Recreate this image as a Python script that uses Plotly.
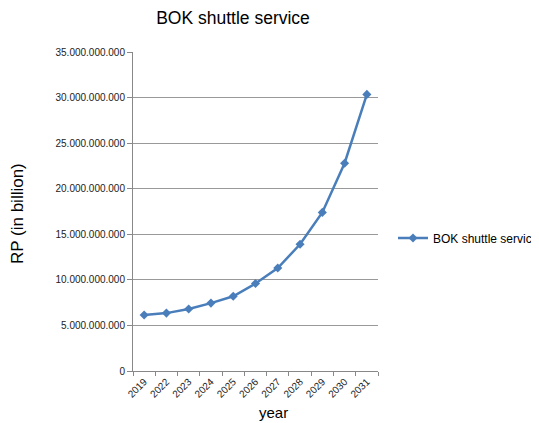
import plotly.graph_objects as go

years = ["2019", "2022", "2023", "2024", "2025", "2026", "2027", "2028", "2029", "2030", "2031"]
values = [6150000000, 6350000000, 6800000000, 7450000000, 8200000000, 9600000000,
          11300000000, 13900000000, 17400000000, 22800000000, 30350000000]
series_name = "BOK shuttle service"
y_ticks = [0, 5000000000, 10000000000, 15000000000, 20000000000, 25000000000, 30000000000, 35000000000]

W, H = 539, 423
OFF = 8  # page offset of the plot div
PL, PR, PT, PB = 133, 378, 52, 371  # target plot area in page pixels
fig = go.Figure()
fig.add_trace(go.Scatter(
    x=years, y=values, name=series_name, mode="lines+markers",
    line=dict(color="#4a7ebb", width=2.5),
    marker=dict(symbol="diamond", size=7, color="#4a7ebb"),
    showlegend=True,
))

font_family = "Liberation Sans, Arial, sans-serif"
pw, ph = PR - PL, PB - PT
fig.update_layout(
    width=W, height=H,
    margin=dict(l=PL - OFF, r=W - PR + OFF, t=PT - OFF, b=H - PB + OFF, autoexpand=False),
    paper_bgcolor="white", plot_bgcolor="white",
    separators=",.",
    font=dict(family=font_family, color="#000000"),
    title=dict(text="BOK shuttle service", x=(233 - OFF) / W, xanchor="center", y=1 - (18 - OFF) / H, yanchor="middle",
               font=dict(size=17.5, color="#000000", family=font_family)),
    legend=dict(xref="container", yref="container", x=(393 - OFF) / W, xanchor="left",
                y=1 - (238 - OFF) / H, yanchor="middle", font=dict(size=12, color="#000000"),
                bgcolor="rgba(0,0,0,0)", itemwidth=30),
    xaxis=dict(
        type="category", range=[-0.5, 10.5], tickson="boundaries",
        showline=True, linecolor="#888888", linewidth=1,
        ticks="outside", ticklen=4, tickcolor="#888888",
        tickangle=-45, tickfont=dict(size=10, color="#222222"),
        showgrid=False, automargin=False,
    ),
    yaxis=dict(
        range=[0, 35000000000], tickvals=y_ticks, tickformat=",d",
        showline=True, linecolor="#888888", linewidth=1,
        ticks="outside", ticklen=5, tickcolor="#888888",
        tickfont=dict(size=10, color="#222222"),
        showgrid=True, gridcolor="#999999", gridwidth=1,
        zeroline=False, automargin=False,
    ),
    annotations=[
        dict(text="year", xref="paper", yref="paper", x=(273 - PL) / pw, y=(PB - 412) / ph,
             xanchor="center", yanchor="middle", showarrow=False, font=dict(size=15, color="#000000")),
        dict(text="RP (in billion)", xref="paper", yref="paper", x=(17 - PL) / pw, y=(PB - 214) / ph,
             xanchor="center", yanchor="middle", textangle=-90, showarrow=False,
             font=dict(size=17, color="#000000")),
    ],
)
fig.write_html("out.html")
